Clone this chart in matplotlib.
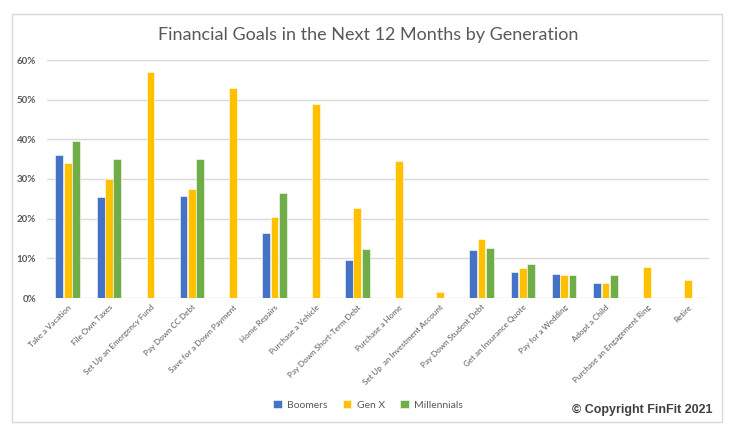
import numpy as np
import matplotlib.pyplot as plt
from matplotlib.patches import Rectangle

goals = ['Take a Vacation', 'File Own Taxes', 'Set Up an Emergency Fund', 'Pay Down CC Debt',
         'Save for a Down Payment', 'Home Repairs', 'Purchase a Vehicle', 'Pay Down Short-Term Debt',
         'Purchase a Home', 'Set Up  an Investment Account', 'Pay Down Student Debt',
         'Get an Insurance Quote', 'Pay for a Wedding', 'Adopt a Child',
         'Purchase an Engagement Ring', 'Retire']
boomers = [36.0, 25.5, 0, 25.8, 0, 16.3, 0, 9.5, 0, 0, 12.0, 6.5, 6.1, 3.9, 0, 0]
genx = [34.0, 30.0, 57.0, 27.5, 53.0, 20.3, 49.0, 22.8, 34.6, 1.5, 15.0, 7.6, 5.9, 3.9, 7.8, 4.5]
millennials = [39.5, 35.0, 0, 35.0, 0, 26.5, 0, 12.3, 0, 0, 12.7, 8.5, 5.9, 5.8, 0, 0]

series = [('Boomers', boomers, '#4472C4'),
          ('Gen X', genx, '#FFC000'),
          ('Millennials', millennials, '#70AD47')]

grey = '#595959'
fig = plt.figure(figsize=(7.36, 4.37), dpi=100)
fig.patches.append(Rectangle((12/736, 1-422/437), 710/736, 408/437, transform=fig.transFigure,
                             fill=False, edgecolor='#D9D9D9', linewidth=1))

ax = fig.add_axes([47/736, 1-298/437, 662/736, 238/437])
x = np.arange(len(goals))
for i, (name, vals, col) in enumerate(series):
    v = np.array(vals) / 100
    ax.bar(x + (i - 1) * 0.2, v, width=0.19, color=col, edgecolor='white', linewidth=0.4,
           label=name, zorder=3)

ax.set_xlim(-0.5, len(goals) - 0.5)
ax.set_ylim(0, 0.6)
ax.set_yticks(np.arange(0, 0.61, 0.1))
ax.set_yticklabels([f'{int(round(t*100))}%' for t in np.arange(0, 0.61, 0.1)],
                   fontsize=7, color=grey, family='Lato', fontweight='bold')
ax.set_xticks(x)
ax.set_xticklabels(goals, rotation=45, ha='right', rotation_mode='anchor',
                   fontsize=5.8, color=grey, family='Lato')
ax.tick_params(length=0, axis='both')
ax.tick_params(axis='y', pad=8)
ax.tick_params(axis='x', pad=4)
ax.grid(axis='y', color='#D9D9D9', linewidth=1, zorder=0)
for s in ax.spines.values():
    s.set_visible(False)

fig.text(0.5, 1-35/437, 'Financial Goals in the Next 12 Months by Generation',
         ha='center', va='center', fontsize=13, color=grey, family='Lato')

fig.legend(loc='center', bbox_to_anchor=(0.5, 1-405/437), ncol=3, frameon=False,
           handlelength=0.8, handleheight=0.8, columnspacing=1.5,
           handletextpad=0.5, prop={'family': 'Lato', 'size': 7.5},
           labelcolor=grey)

fig.text(713/736, 1-410/437, '\u00a9 Copyright FinFit 2021', ha='right', va='center',
         fontsize=9, color='#404040', family='Liberation Sans', fontweight='bold')

fig.savefig('out.png', dpi=100)
